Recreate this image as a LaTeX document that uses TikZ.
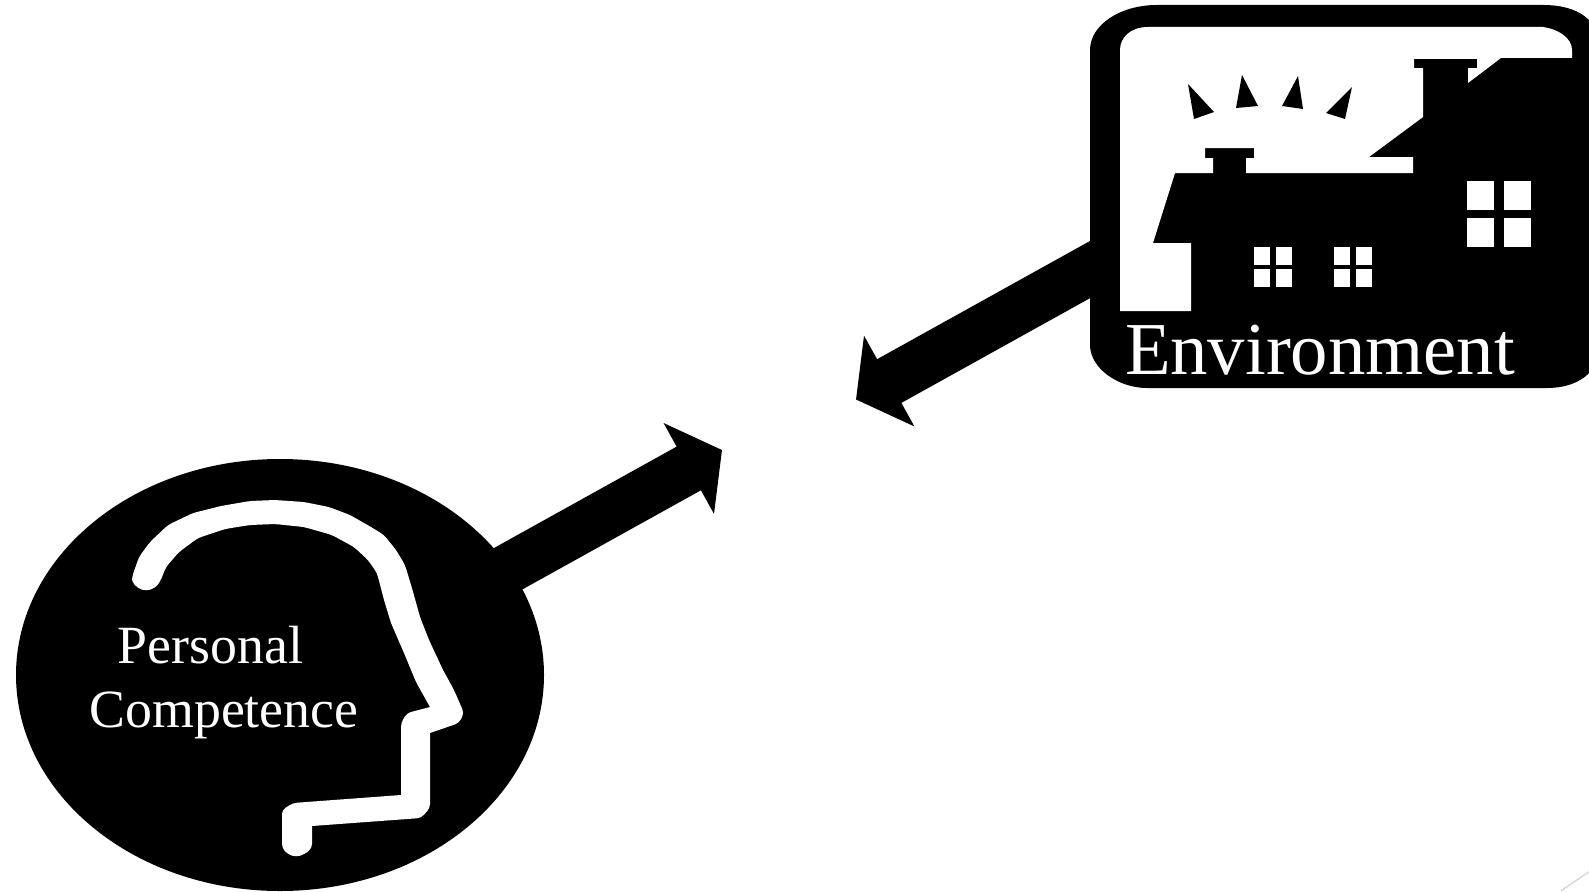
\documentclass[tikz,border=0pt]{standalone}
\usepackage{fontspec}
\setmainfont{Liberation Serif}
\usetikzlibrary{arrows.meta,shapes.geometric}
\tikzset{
  blackshape/.style={fill=black, inner sep=0pt},
  bigarrow/.style={line width=50pt, -{Triangle[length=38pt,width=102pt]}},
  whitelabel/.style={text=white, anchor=base, inner sep=0pt},
}
\begin{document}
\begin{tikzpicture}[x=1pt,y=-1pt]
  \clip (0,0) rectangle (1589,891);

  % head and frame of the house
  \coordinate (tipa) at (722,450);
  \coordinate (tipb) at (856,399.5);
  \node[blackshape, ellipse, minimum width=528pt, minimum height=432pt] (head) at (280,675) {};
  \node[inner sep=0pt, minimum width=510pt, minimum height=383pt] (env) at (1345,196.5) {};
  \fill (1090,50) .. controls (1090,25) and (1120,5) .. (1157,5) -- (1543,5)
    .. controls (1578,5) and (1600,20) .. (1600,50) -- (1600,345)
    .. controls (1600,372) and (1578,388) .. (1547,388) -- (1147,388)
    .. controls (1118,388) and (1090,368) .. (1090,345) -- cycle;

  % arrows
  \draw[bigarrow, shorten <=-10pt] (head.25) -- (tipa);
  \draw[bigarrow, shorten <=-30pt] (env.196.7) -- (tipb);

  % profile of the head
  \fill[white, rounded corners=4pt] (132,577) -- (139,557) -- (150,542) -- (168,525) -- (193,513) -- (221,506)
    -- (250,501) -- (275,500) -- (304,502) -- (329,507) -- (350,515) -- (371,527) -- (384,535)
    -- (396,550) -- (405,565) -- (412.5,590) -- (420,617) -- (429,640) -- (443,670) -- (454,690)
    -- (464,713) -- (459,723) [sharp corners] -- (430,733) [rounded corners=4pt] -- (430,808) -- (421,818)
    [sharp corners] -- (312,826) [rounded corners=4pt] -- (312,848)
    -- (305,854) -- (296,857) -- (287.5,854) -- (282,848) -- (282,810) -- (293,803)
    [sharp corners] -- (401,795) [rounded corners=4pt]
    -- (401,723) -- (407,713) [sharp corners] -- (430,707) [rounded corners=4pt] -- (416,682) -- (404,653) -- (391,623) -- (384,600)
    -- (377,573) -- (368,560) -- (354,547) -- (332,535) -- (304,527) -- (275,524) -- (250,525)
    -- (225,529) -- (198,538) -- (179,552) -- (166,567) -- (160,582) -- (155,588) -- (146,591)
    -- (137.5,588) -- (132,582) -- cycle;

  % sky above the house
  \fill[white] (1120,311) -- (1120,50) .. controls (1120,38) and (1130,27) .. (1148,27)
    -- (1543,27) .. controls (1558,29) and (1572,38) .. (1572,50) -- (1572,58) -- (1501,58)
    -- (1468,83) -- (1468,68) -- (1477,68) -- (1477,59) -- (1414,59) -- (1414,68) -- (1423,68)
    -- (1423,117) -- (1369,157) -- (1413,157) -- (1413,173) -- (1246,173) -- (1246,158)
    -- (1254,158) -- (1254,148) -- (1205,148) -- (1205,158) -- (1213,158) -- (1213,173)
    -- (1175,173) -- (1153,243) -- (1191,243) -- (1191,311) -- cycle;

  % smoke
  \fill (1188,84) -- (1214,112) -- (1194,119) -- cycle;
  \fill (1242,75) -- (1258,106) -- (1236,108) -- cycle;
  \fill (1298,76) -- (1303,109) -- (1282,106) -- cycle;
  \fill (1352,87) -- (1345,119) -- (1326,113) -- cycle;

  % windows
  \foreach \x/\y in {1467/181, 1504/181, 1467/218, 1504/218}
    \fill[white] (\x,\y) rectangle +(26.5,29);
  \foreach \x/\y in {1254/247, 1276/247, 1254/269, 1276/269, 1334/247, 1356/247, 1334/269, 1356/269}
    \fill[white] (\x,\y) rectangle +(16,17.5);

  % labels
  \node[whitelabel, font=\fontsize{74.7}{80}\selectfont] (envlabel) at (1320,374) {Environment};
  \node[whitelabel, font=\fontsize{53.8}{60}\selectfont] (personal) at (210.5,663) {Personal};
  \node[whitelabel, font=\fontsize{53.8}{60}\selectfont] (competence) at (224,727) {Competence};

  % thin line in the corner
  \coordinate (linea) at (1560.7,891);
  \coordinate (lineb) at (1589,871.7);
  \draw[line width=1.5pt, black!15] (linea) -- (lineb);
\end{tikzpicture}
\end{document}
